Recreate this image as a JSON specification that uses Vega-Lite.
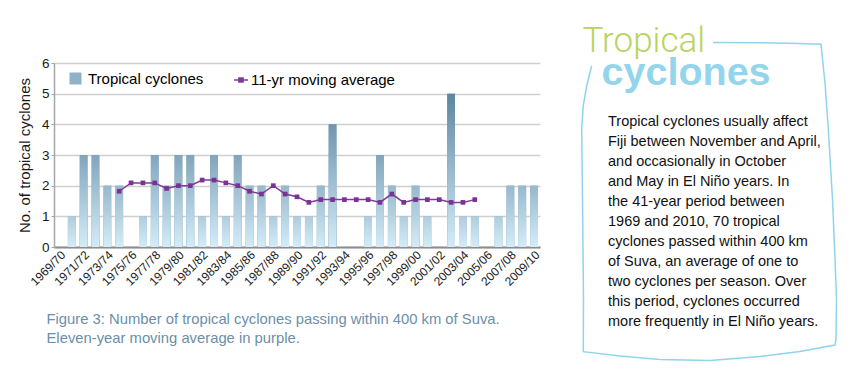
{
  "$schema": "https://vega.github.io/schema/vega-lite/v6.json",
  "padding": {"left": 17, "top": 24, "right": 5, "bottom": 5},
  "background": "#ffffff",
  "config": {
    "font": "Liberation Sans",
    "view": {"stroke": null},
    "axisY": {
      "tickCount": 8,
      "grid": true,
      "gridColor": "#cfcfcf",
      "gridWidth": 1.5,
      "domainColor": "#a6a6a6",
      "domainWidth": 1.5,
      "tickColor": "#a6a6a6",
      "tickSize": 3,
      "labelFontSize": 13.5,
      "labelColor": "#1a1a1a",
      "labelPadding": 2,
      "labelOverlap": false,
      "titleFontSize": 15,
      "titleFontWeight": "normal",
      "titleColor": "#1a1a1a",
      "titlePadding": 9
    }
  },
  "datasets": {
    "cyclones": [
      {"season": "1969/70", "n": 0},
      {"season": "1970/71", "n": 1},
      {"season": "1971/72", "n": 3},
      {"season": "1972/73", "n": 3},
      {"season": "1973/74", "n": 2},
      {"season": "1974/75", "n": 2, "ma": 1.818},
      {"season": "1975/76", "n": 0, "ma": 2.091},
      {"season": "1976/77", "n": 1, "ma": 2.091},
      {"season": "1977/78", "n": 3, "ma": 2.091},
      {"season": "1978/79", "n": 2, "ma": 1.909},
      {"season": "1979/80", "n": 3, "ma": 2.0},
      {"season": "1980/81", "n": 3, "ma": 2.0},
      {"season": "1981/82", "n": 1, "ma": 2.182},
      {"season": "1982/83", "n": 3, "ma": 2.182},
      {"season": "1983/84", "n": 1, "ma": 2.091},
      {"season": "1984/85", "n": 3, "ma": 2.0},
      {"season": "1985/86", "n": 2, "ma": 1.818},
      {"season": "1986/87", "n": 2, "ma": 1.727},
      {"season": "1987/88", "n": 1, "ma": 2.0},
      {"season": "1988/89", "n": 2, "ma": 1.727},
      {"season": "1989/90", "n": 1, "ma": 1.636},
      {"season": "1990/91", "n": 1, "ma": 1.455},
      {"season": "1991/92", "n": 2, "ma": 1.545},
      {"season": "1992/93", "n": 4, "ma": 1.545},
      {"season": "1993/94", "n": 0, "ma": 1.545},
      {"season": "1994/95", "n": 0, "ma": 1.545},
      {"season": "1995/96", "n": 1, "ma": 1.545},
      {"season": "1996/97", "n": 3, "ma": 1.455},
      {"season": "1997/98", "n": 2, "ma": 1.727},
      {"season": "1998/99", "n": 1, "ma": 1.455},
      {"season": "1999/00", "n": 2, "ma": 1.545},
      {"season": "2000/01", "n": 1, "ma": 1.545},
      {"season": "2001/02", "n": 0, "ma": 1.545},
      {"season": "2002/03", "n": 5, "ma": 1.455},
      {"season": "2003/04", "n": 1, "ma": 1.455},
      {"season": "2004/05", "n": 1, "ma": 1.545},
      {"season": "2005/06", "n": 0},
      {"season": "2006/07", "n": 1},
      {"season": "2007/08", "n": 2},
      {"season": "2008/09", "n": 2},
      {"season": "2009/10", "n": 2}
    ],
    "body": [
      {"t": "Tropical cyclones usually affect", "px": 28, "py": 62.7},
      {"t": "Fiji between November and April,", "px": 28, "py": 82.7},
      {"t": "and occasionally in October", "px": 28, "py": 102.7},
      {"t": "and May in El Niño years. In", "px": 28, "py": 122.7},
      {"t": "the 41-year period between", "px": 28, "py": 142.7},
      {"t": "1969 and 2010, 70 tropical", "px": 28, "py": 162.7},
      {"t": "cyclones passed within 400 km", "px": 28, "py": 182.7},
      {"t": "of Suva, an average of one to", "px": 28, "py": 202.7},
      {"t": "two cyclones per season. Over", "px": 28, "py": 222.7},
      {"t": "this period, cyclones occurred", "px": 28, "py": 242.7},
      {"t": "more frequently in El Niño years.", "px": 28, "py": 262.7}
    ],
    "outline": [
      {"k": 1, "px": 133, "py": -20.5},
      {"k": 2, "px": 180, "py": -20.3},
      {"k": 3, "px": 220, "py": -19.5},
      {"k": 4, "px": 241, "py": -18.7},
      {"k": 5, "px": 245, "py": 20},
      {"k": 6, "px": 248.3, "py": 66},
      {"k": 7, "px": 252.5, "py": 136},
      {"k": 8, "px": 255, "py": 196},
      {"k": 9, "px": 256.5, "py": 236},
      {"k": 10, "px": 256, "py": 276},
      {"k": 11, "px": 255, "py": 282},
      {"k": 12, "px": 220, "py": 288.5},
      {"k": 13, "px": 180, "py": 293.5},
      {"k": 14, "px": 130, "py": 297.5},
      {"k": 15, "px": 80, "py": 296.5},
      {"k": 16, "px": 40, "py": 293},
      {"k": 17, "px": 3.3, "py": 288.7},
      {"k": 18, "px": 3.5, "py": 236},
      {"k": 19, "px": 2.5, "py": 136},
      {"k": 20, "px": 1.7, "py": 66},
      {"k": 21, "px": 3.3, "py": 42.7},
      {"k": 22, "px": 6.7, "py": 22.7},
      {"k": 23, "px": 11.7, "py": 2.7}
    ]
  },
  "bounds": "flush",
  "spacing": 40,
  "hconcat": [
    {
      "width": 486,
      "height": 184,
      "data": {"name": "cyclones"},
      "title": {
        "text": "Figure 3: Number of tropical cyclones passing within 400 km of Suva.",
        "subtitle": "Eleven-year moving average in purple.",
        "orient": "bottom",
        "anchor": "start",
        "frame": "group",
        "dx": -7.5,
        "offset": 25,
        "fontSize": 14.8,
        "fontWeight": "normal",
        "color": "#6b8fa9",
        "subtitleFontSize": 14.8,
        "subtitleColor": "#6b8fa9",
        "subtitlePadding": 4
      },
      "encoding": {
        "x": {
          "field": "season",
          "type": "nominal",
          "sort": null,
          "scale": {"paddingInner": 0.34, "paddingOuter": 0.17},
          "axis": {
            "title": null,
            "labelAngle": -45,
            "labelFontSize": 12,
            "labelColor": "#1a1a1a",
            "labelExpr": "indexof(['1969/70','1971/72','1973/74','1975/76','1977/78','1979/80','1981/82','1983/84','1985/86','1987/88','1989/90','1991/92','1993/94','1995/96','1997/98','1999/00','2001/02','2003/04','2005/06','2007/08','2009/10'], datum.label) >= 0 ? datum.label : ''",
            "labelOverlap": false,
            "labelPadding": 2,
            "ticks": false,
            "domainColor": "#8c8c8c",
            "domainWidth": 2,
            "grid": false
          }
        }
      },
      "layer": [
        {
          "mark": {"type": "bar"},
          "encoding": {
            "y": {
              "field": "n",
              "type": "quantitative",
              "title": "No. of tropical cyclones",
              "scale": {"domain": [0, 6], "nice": false},
              "axis": {"values": [0, 1, 2, 3, 4, 5, 6], "tickCount": 8}
            },
            "fill": {
              "datum": "Tropical cyclones",
              "scale": {"range": ["#8db2ca"]},
              "legend": {
                "orient": "none",
                "legendX": 14,
                "legendY": 8,
                "title": null,
                "symbolType": "square",
                "symbolSize": 144,
                "symbolStrokeWidth": 0,
                "labelFontSize": 15,
                "labelColor": "#000000",
                "labelOffset": 5
              }
            }
          }
        },
        {
          "mark": {"type": "bar"},
          "encoding": {
            "y": {"field": "n", "type": "quantitative", "title": "No. of tropical cyclones", "axis": {"values": [0, 1, 2, 3, 4, 5, 6], "tickCount": 8}},
            "fill": {
              "field": "n",
              "type": "quantitative",
              "scale": {"type": "pow", "exponent": 0.75, "domain": [0, 5], "range": ["#d4ecf9", "#5e86a0"]},
              "legend": null
            }
          }
        },
        {
          "mark": {
            "type": "bar",
            "fill": {"gradient": "linear", "x1": 0, "y1": 0, "x2": 0, "y2": 1, "stops": [{"offset": 0, "color": "rgba(212,236,249,0)"}, {"offset": 1, "color": "rgba(212,236,249,1)"}]}
          },
          "encoding": {
            "y": {"field": "n", "type": "quantitative", "title": "No. of tropical cyclones", "axis": {"values": [0, 1, 2, 3, 4, 5, 6], "tickCount": 8}}
          }
        },
        {
          "mark": {"type": "line", "strokeWidth": 1.5},
          "encoding": {
            "y": {"field": "ma", "type": "quantitative", "title": "No. of tropical cyclones", "axis": {"values": [0, 1, 2, 3, 4, 5, 6], "tickCount": 8}},
            "stroke": {
              "datum": "11-yr moving average",
              "scale": {"range": ["#7d3c98"]},
              "legend": {
                "orient": "none",
                "legendX": 179,
                "legendY": 9,
                "title": null,
                "symbolType": "M-1,0H1M-0.3,-0.3H0.3V0.3H-0.3Z",
                "symbolSize": 196,
                "symbolStrokeWidth": 1.5,
                "symbolStrokeColor": "#7d3c98",
                "symbolFillColor": "#7d3c98",
                "labelFontSize": 15,
                "labelColor": "#000000",
                "labelOffset": 2
              }
            }
          }
        },
        {
          "mark": {"type": "square", "size": 22, "color": "#7b3294", "opacity": 1},
          "encoding": {
            "y": {"field": "ma", "type": "quantitative", "title": "No. of tropical cyclones", "axis": {"values": [0, 1, 2, 3, 4, 5, 6], "tickCount": 8}}
          }
        }
      ],
      "resolve": {"scale": {"fill": "independent"}, "legend": {"fill": "independent"}}
    },
    {
      "width": 260,
      "height": 300,
      "layer": [
        {
          "data": {"name": "outline"},
          "mark": {"type": "line", "stroke": "#8fd4ea", "strokeWidth": 1.5},
          "encoding": {
            "x": {"field": "px", "type": "quantitative", "scale": {"domain": [0, 260], "nice": false, "zero": false}, "axis": null},
            "y": {"field": "py", "type": "quantitative", "scale": {"domain": [0, 300], "nice": false, "zero": false, "reverse": true}, "axis": null},
            "order": {"field": "k", "type": "quantitative"}
          }
        },
        {
          "data": {"values": [{"t": "Tropical", "px": 2.5, "py": -11}]},
          "mark": {"type": "text", "align": "left", "baseline": "alphabetic", "font": "Roboto", "fontWeight": 300, "fontSize": 35, "color": "#b8d35e"},
          "encoding": {
            "x": {"field": "px", "type": "quantitative"},
            "y": {"field": "py", "type": "quantitative"},
            "text": {"field": "t", "type": "nominal"}
          }
        },
        {
          "data": {"values": [{"t": "cyclones", "px": 21.5, "py": 21.5}]},
          "mark": {"type": "text", "align": "left", "baseline": "alphabetic", "fontWeight": "bold", "fontSize": 39.5, "color": "#93d5ea"},
          "encoding": {
            "x": {"field": "px", "type": "quantitative"},
            "y": {"field": "py", "type": "quantitative"},
            "text": {"field": "t", "type": "nominal"}
          }
        },
        {
          "data": {"name": "body"},
          "mark": {"type": "text", "align": "left", "baseline": "alphabetic", "fontSize": 14.5, "color": "#111111"},
          "encoding": {
            "x": {"field": "px", "type": "quantitative"},
            "y": {"field": "py", "type": "quantitative"},
            "text": {"field": "t", "type": "nominal"}
          }
        }
      ]
    }
  ]
}
